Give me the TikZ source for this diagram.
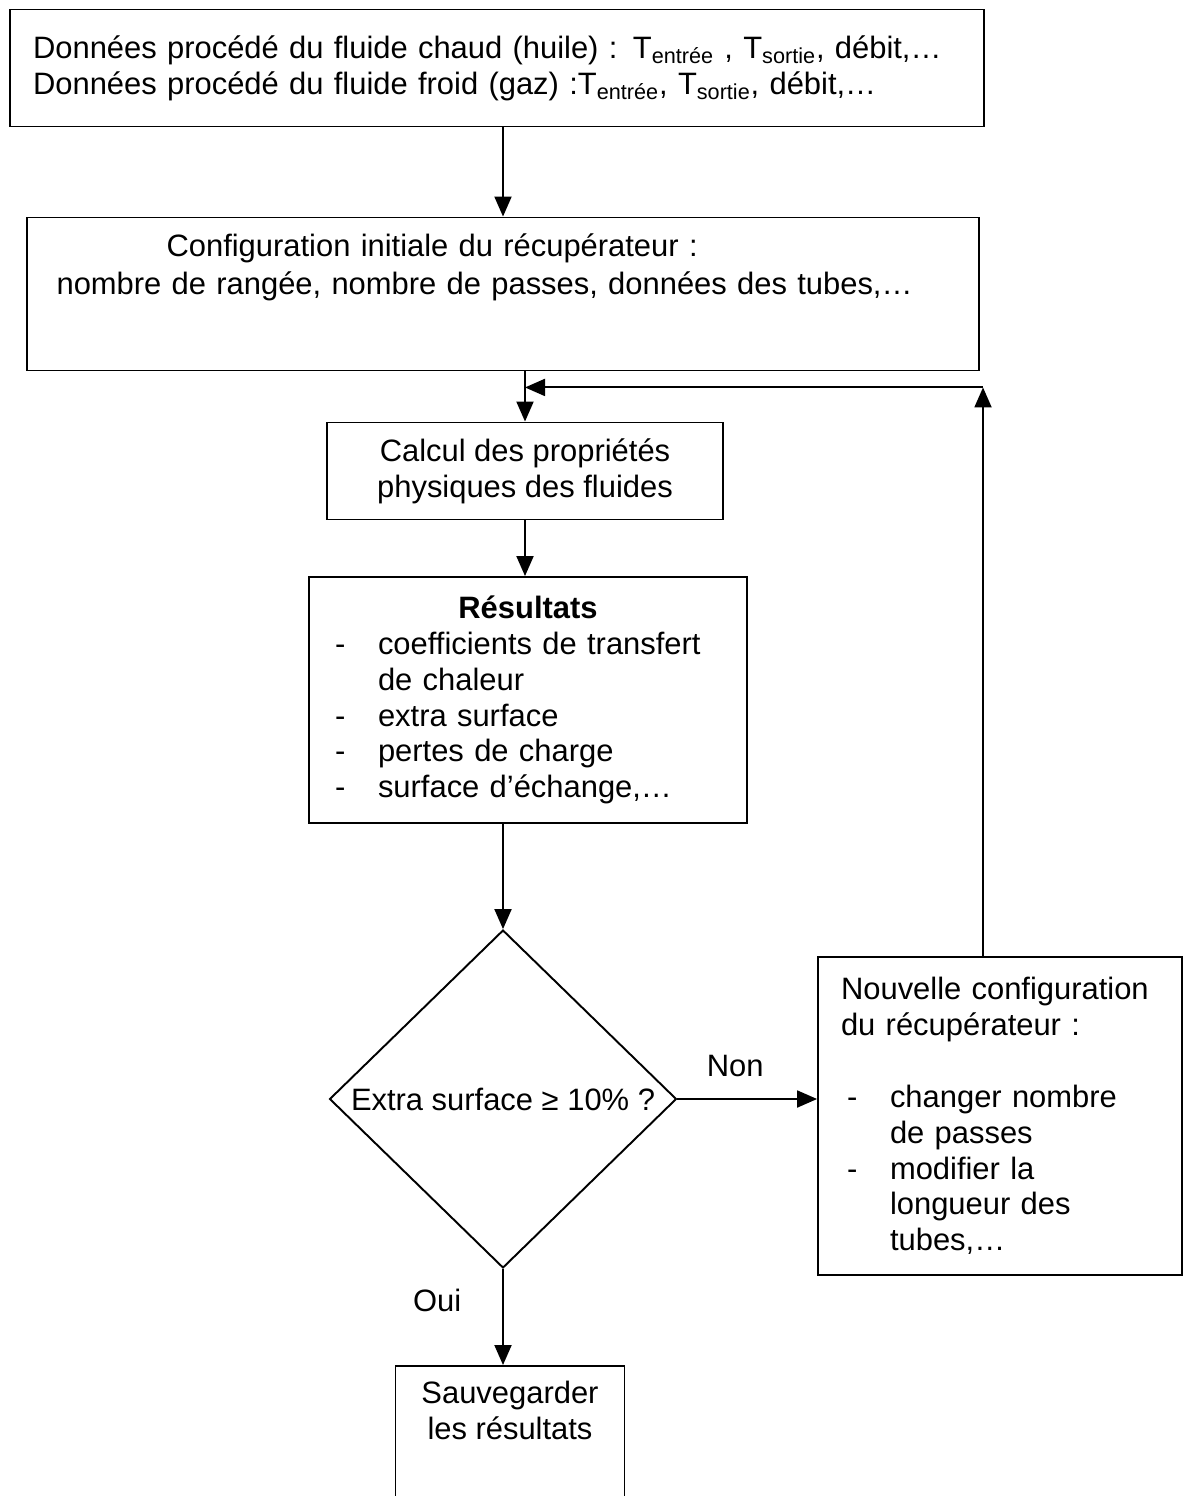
\documentclass[tikz,border=0pt]{standalone}
\usepackage{fontspec}
\setmainfont{Liberation Sans}
\usetikzlibrary{positioning,shapes.geometric,arrows.meta,calc}
\newcommand{\puce}{\makebox[0.86cm][l]{-}}
\newcommand{\retrait}{\hspace*{0.86cm}}

\begin{document}
\begin{tikzpicture}[x=0.02cm, y=-0.02cm,
    font=\fontsize{17.6}{20.4}\selectfont,
    box/.style={draw, line width=1.1pt, rectangle, inner sep=0pt},
    decision/.style={draw, line width=1.1pt, diamond, inner sep=0pt},
    flow/.style={line width=1.1pt, -{Triangle[length=0.4cm, width=0.34cm]}}]
    \useasboundingbox (0,0) rectangle (1189,1496);
    \clip (0,0) rectangle (1189,1496);

    % boites
    \node[box, minimum width=19.48cm, minimum height=2.34cm, text width=18.56cm, align=left] (data) at (497,68)
        {Données procédé du fluide chaud (huile) : T\textsubscript{entrée} , T\textsubscript{sortie}, débit,…\\
         Données procédé du fluide froid (gaz) :T\textsubscript{entrée}, T\textsubscript{sortie}, débit,…\\[-0.3cm]};
    \node[box, minimum width=19.06cm, minimum height=3.06cm, text width=17.86cm, align=left] (cfg) at (503,294)
        {\hspace*{2.2cm}Configuration initiale du récupérateur :\\[0.05cm]
         nombre de rangée, nombre de passes, données des tubes,…\\[0.48cm] ~};
    \node[box, minimum width=7.92cm, minimum height=1.94cm, align=center] (calc) at (525,471)
        {Calcul des propriétés\\physiques des fluides};
    \node[box, minimum width=8.76cm, minimum height=4.92cm, text width=7.72cm, align=left] (res) at (528,700)
        {\makebox[7.72cm]{\bfseries Résultats}\\
         \puce coefficients de transfert\\
         \retrait de chaleur\\
         \puce extra surface\\
         \puce pertes de charge\\
         \puce surface d’échange,…};
    \node[decision, minimum width=6.94cm, minimum height=6.76cm,
          label={center:Extra surface ≥ 10\% ?}] (test) at (503,1099) {};
    \node[box, minimum width=7.28cm, minimum height=6.36cm, text width=6.36cm, align=left] (nouv) at (1000,1116)
        {Nouvelle configuration\\
         du récupérateur :\\ ~\\
         \hspace*{0.12cm}\puce changer nombre\\
         \hspace*{0.12cm}\retrait de passes\\
         \hspace*{0.12cm}\puce modifier la\\
         \hspace*{0.12cm}\retrait longueur des\\
         \hspace*{0.12cm}\retrait tubes,…};
    \node[box, anchor=north, minimum width=4.58cm, inner ysep=0.3cm, align=center] (sauv) at (510,1365)
        {Sauvegarder\\les résultats\\ ~\\ ~\\ ~};

    % fleches
    \draw[flow] (data.south -| cfg.north) -- (cfg.north);
    \draw[flow] (cfg.south -| calc.north) -- (calc.north);
    \draw[flow] (calc.south) -- (calc.south |- res.north);
    \draw[flow] (res.south -| test.north) -- (test.north);
    \draw[flow] (test.east) -- (test.east -| nouv.west)
        node[midway, above=0.3cm, xshift=-0.24cm] (non) {Non};
    \draw[flow] (test.south) -- (test.south |- sauv.north)
        node[pos=0.33, left=0.7cm] (oui) {Oui};

    % retour
    \coordinate (retour) at ($(cfg.south -| calc.north)+(0,16)$);
    \coordinate (depart) at ([xshift=-0.34cm]nouv.north);
    \draw[flow] (depart) -- (depart |- retour);
    \draw[flow] (depart |- retour) -- (retour);
\end{tikzpicture}
\end{document}
